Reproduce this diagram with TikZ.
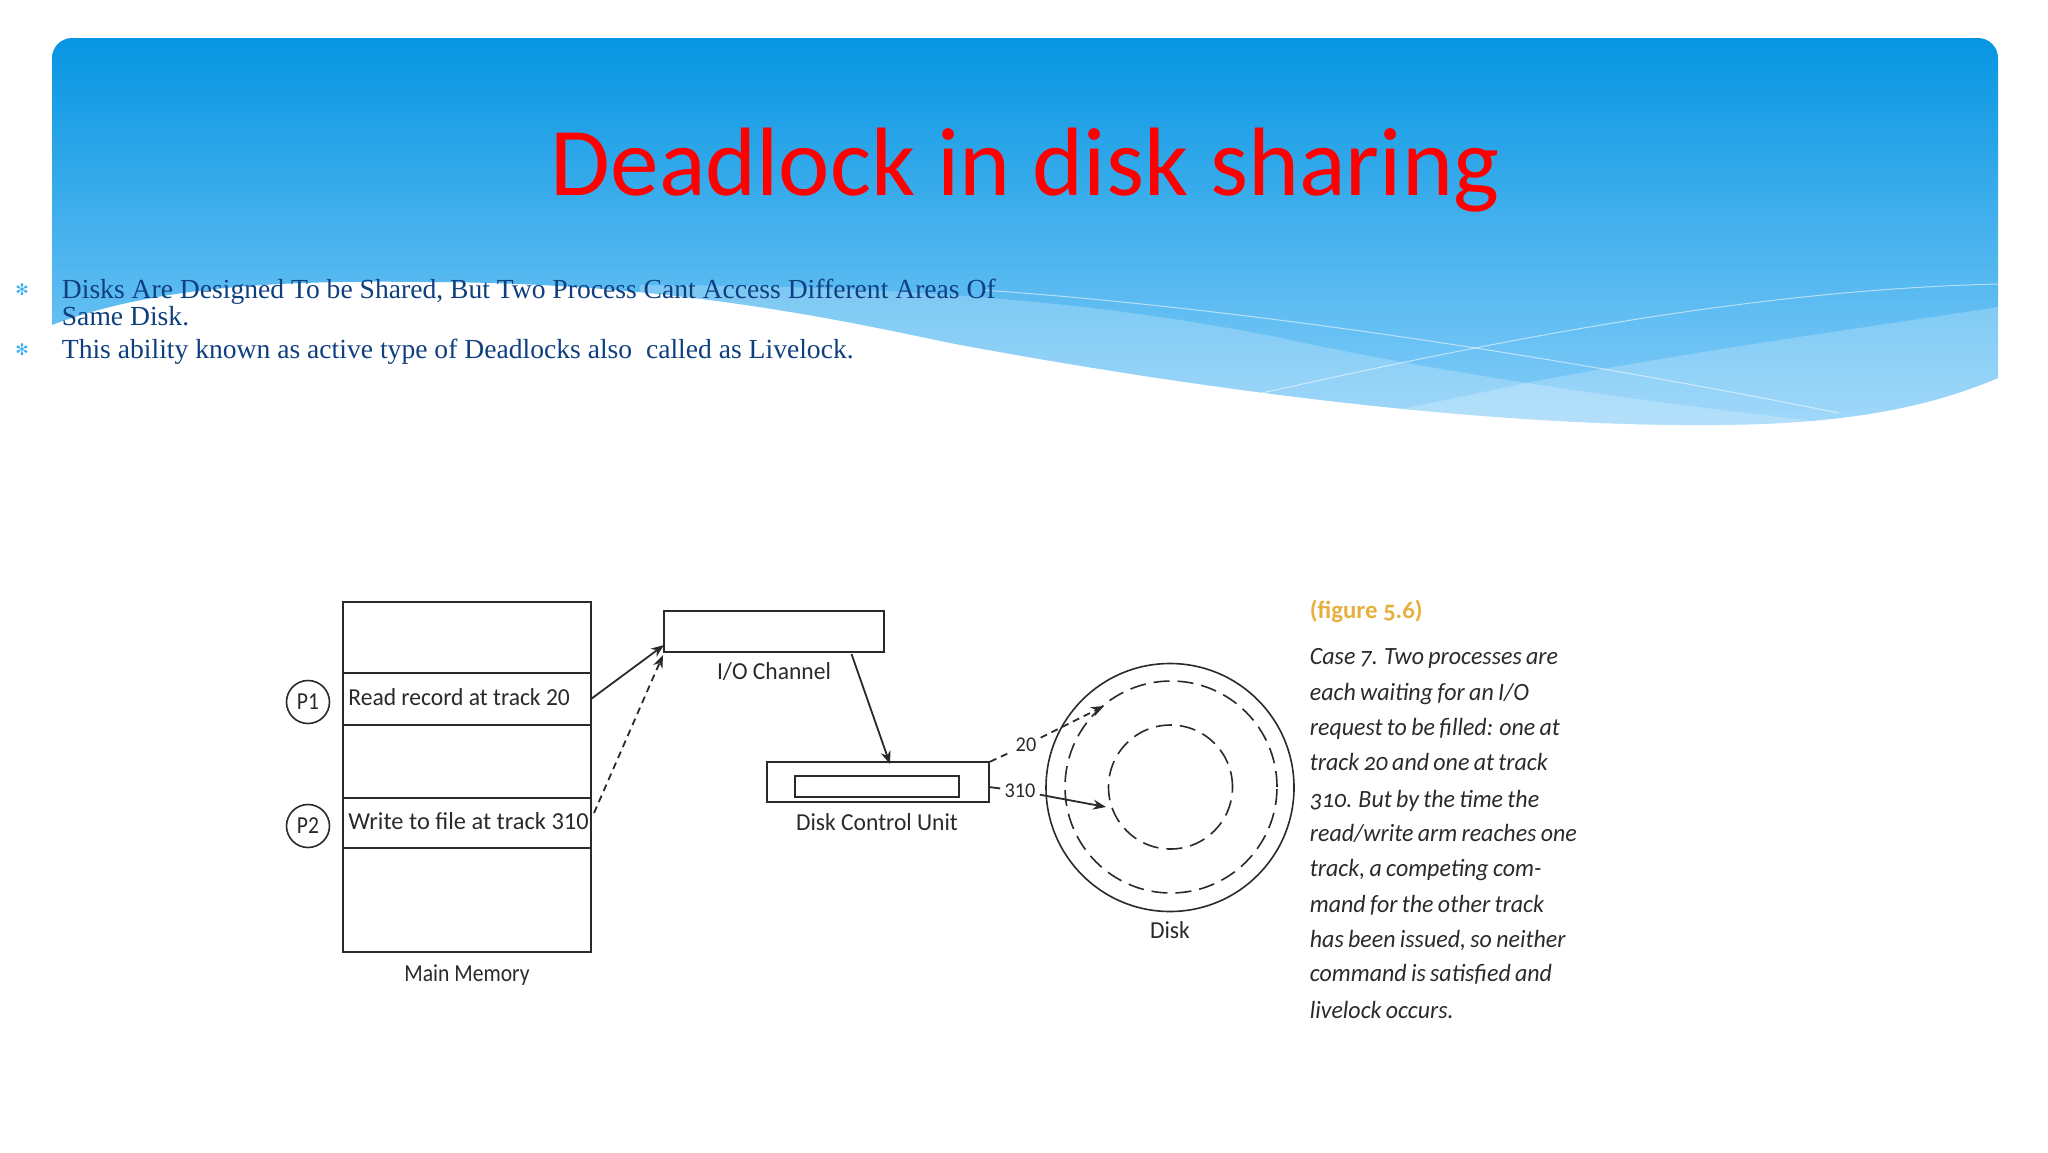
\documentclass[tikz,border=0pt]{standalone}
\usepackage{fontspec}
\usetikzlibrary{arrows.meta}
\setmainfont{Liberation Serif}
\newfontfamily\carl{Carlito}
\newfontfamily\carlfig[FakeStretch=0.965]{Carlito}
\newfontfamily\carlnarrow[FakeStretch=0.885]{Carlito}
\newfontfamily\carlold[Numbers=OldStyle,FakeStretch=0.965,WordSpace=0.8]{Carlito}
\newfontfamily\carlhead[Numbers=OldStyle]{Carlito}
\newfontfamily\deja{DejaVu Sans}
\definecolor{bandtop}{HTML}{0695E2}
\definecolor{bandbot}{HTML}{86CEF9}
\definecolor{bodyblue}{HTML}{0F3F80}
\definecolor{bulletblue}{HTML}{3BB0EE}
\definecolor{inkgrey}{HTML}{2A2A2A}
\definecolor{figorange}{HTML}{E5B040}
\tikzset{
  x=0.5pt,y=-0.5pt,
  rectbox/.style 2 args={draw=inkgrey,line width=1pt,inner sep=0,outer sep=0,
    minimum width={#1*0.5pt},minimum height={#2*0.5pt}},
  figlabel/.style={font=\carlfig\fontsize{12.2}{14}\selectfont,text=inkgrey,inner sep=0},
  procmark/.style={circle,draw=inkgrey,line width=0.8pt,minimum size=21.5pt,inner sep=0,text=inkgrey,font=\carlnarrow\fontsize{12.2}{14}\selectfont},
  sidetext/.style={anchor=base west,inner sep=0,text=inkgrey,font=\carlold\itshape\fontsize{12.4}{14}\selectfont},
  bodyline/.style={anchor=base west,inner sep=0,text=bodyblue,font=\fontsize{13.8}{14}\selectfont},
  bulletmark/.style={inner sep=0,text=bulletblue,font=\deja\fontsize{8}{9}\selectfont},
  plainarrow/.style={draw=inkgrey,line width=0.9pt,-{Stealth[length=6.5pt,width=5pt]}},
  dasharrow/.style={plainarrow,dash pattern=on 3.5pt off 2.5pt},
  dashstub/.style={draw=inkgrey,line width=0.9pt,dash pattern=on 3.5pt off 2.5pt},
  platter/.style={circle,draw=inkgrey,line width=0.8pt,inner sep=0},
  track/.style={platter,dash pattern=on 8pt off 4pt},
  sheen/.style={draw=white,draw opacity=0.55,line width=0.5pt},
  swell/.style={fill=white,fill opacity=0.22},
}
\begin{document}
\begin{tikzpicture}
\useasboundingbox (0,0) rectangle (2048,1152);
% banner
\def\bannerpath{(52,325) -- (52,58) .. controls (52,47) and (61,38) .. (72,38) -- (1978,38) .. controls (1989,38) and (1998,47) .. (1998,58) -- (1998,378)
  .. controls (1900,420) and (1790,426) .. (1678,425)
  .. controls (1480,423) and (1230,395) .. (950,343)
  .. controls (810,313) and (650,282) .. (420,282)
  .. controls (270,280) and (150,288) .. (52,325) -- cycle}
\shade[top color=bandtop,bottom color=bandbot] \bannerpath;
\begin{scope}
  \clip \bannerpath;
  \fill[swell] (640,285) .. controls (950,285) and (1150,310) .. (1300,342)
     .. controls (1430,370) and (1620,400) .. (1850,425) -- (1850,450) -- (640,450) -- cycle;
  \fill[swell] (1998,307) .. controls (1850,330) and (1700,350) .. (1531,382)
     .. controls (1470,395) and (1420,405) .. (1350,420) -- (1350,450) -- (1998,450) -- cycle;
  \draw[sheen] (982,290) .. controls (1200,305) and (1500,345) .. (1839,413);
  \draw[sheen] (1262,393) .. controls (1500,340) and (1750,290) .. (1998,284);
\end{scope}
% title
\node[anchor=base,inner sep=0,text=red,font=\carl\fontsize{48.6}{52}\selectfont] (title) at (1025,195) {Deadlock in disk sharing};
% body
\node[bulletmark] (b1) at (22,290) {✻};
\node[bulletmark] (b2) at (22,350) {✻};
\node[bodyline] (l1) at (61.5,298) {Disks Are Designed To be Shared, But Two Process Cant Access Different Areas Of};
\node[bodyline] (l2) at (61.5,325) {Same Disk.};
\node[bodyline] (l3) at (61.5,358) {This ability known as active type of Deadlocks also\ \ called as Livelock.};
% memory
\node[rectbox={248.4}{71.3}] (row0) at (466.8,637.4) {};
\node[rectbox={248.4}{52}] (row1) at (466.8,699) {};
\node[rectbox={248.4}{73}] (row2) at (466.8,761.5) {};
\node[rectbox={248.4}{50}] (row3) at (466.8,823) {};
\node[rectbox={248.4}{104}] (row4) at (466.8,900) {};
\node[figlabel,anchor=west] (t1) at (348,697) {Read record at track 20};
\node[figlabel,anchor=west,font=\carl\fontsize{12.2}{14}\selectfont] (t3) at (348,821) {Write to file at track 310};
\node[figlabel,font=\carlnarrow\fontsize{12.2}{14}\selectfont] (memlab) at (467,975) {Main Memory};
\node[procmark] (p1) at (308,702) {P1};
\node[procmark] (p2) at (308,826) {P2};
% channel and control unit
\node[rectbox={220}{41}] (chan) at (774,631.5) {};
\node[figlabel] (chanlab) at (774,672) {I/O Channel};
\node[rectbox={221.8}{40}] (dcu) at (877.9,782) {};
\node[rectbox={164}{21}] (dcuin) at (877,786) {};
\node[figlabel] (dculab) at (877,822) {Disk Control Unit};
% disk
\node[platter,minimum size=124pt] (disk) at (1170,787.5) {};
\node[track,minimum size=106pt] (outer) at (1171,787) {};
\node[track,minimum size=62pt] (inner) at (1170.5,787) {};
\node[figlabel] (disklab) at (1170,930) {Disk};
\node[figlabel,font=\carlfig\fontsize{10.5}{12}\selectfont,inner sep=2pt] (n20) at (1026,745) {20};
\node[figlabel,font=\carlfig\fontsize{10.5}{12}\selectfont,inner sep=2pt] (n310) at (1020,791) {310};
% connector ends
\coordinate (c1) at (664,645);
\coordinate (c3a) at (594,813);
\coordinate (c3) at (663,655);
\coordinate (chanout) at (851.5,654);
\coordinate (dcuinp) at (890,764);
\coordinate (dcu20) at (990,761.7);
\coordinate (trk20) at (1104,706);
\coordinate (dcu310) at (989,787);
\coordinate (trk310) at (1106,807);
\draw[plainarrow] (row1.east) -- (c1);
\draw[dasharrow] (c3a) -- (c3);
\draw[plainarrow] (chanout) -- (dcuinp);
\draw[dashstub] (dcu20) -- (n20);
\draw[dasharrow] (n20) -- (trk20);
\draw[draw=inkgrey,line width=0.9pt] (dcu310) -- (n310);
\draw[plainarrow] (n310) -- (trk310);
% side text
\node[anchor=base west,inner sep=0,text=figorange,font=\carlhead\bfseries\fontsize{12.4}{14}\selectfont] (figt) at (1309.5,618) {(figure 5.6)};
\node[sidetext] (s1) at (1309.5,664) {Case 7. Two processes are};
\node[sidetext] (s2) at (1309.5,700) {each waiting for an I/O};
\node[sidetext] (s3) at (1309.5,735) {request to be filled: one at};
\node[sidetext] (s4) at (1309.5,770) {track 20 and one at track};
\node[sidetext] (s5) at (1309.5,807) {310. But by the time the};
\node[sidetext] (s6) at (1309.5,841) {read/write arm reaches one};
\node[sidetext] (s7) at (1309.5,876) {track, a competing com-};
\node[sidetext] (s8) at (1309.5,912) {mand for the other track};
\node[sidetext] (s9) at (1309.5,947) {has been issued, so neither};
\node[sidetext] (s10) at (1309.5,981) {command is satisfied and};
\node[sidetext] (s11) at (1309.5,1018) {livelock occurs.};
\end{tikzpicture}
\end{document}
